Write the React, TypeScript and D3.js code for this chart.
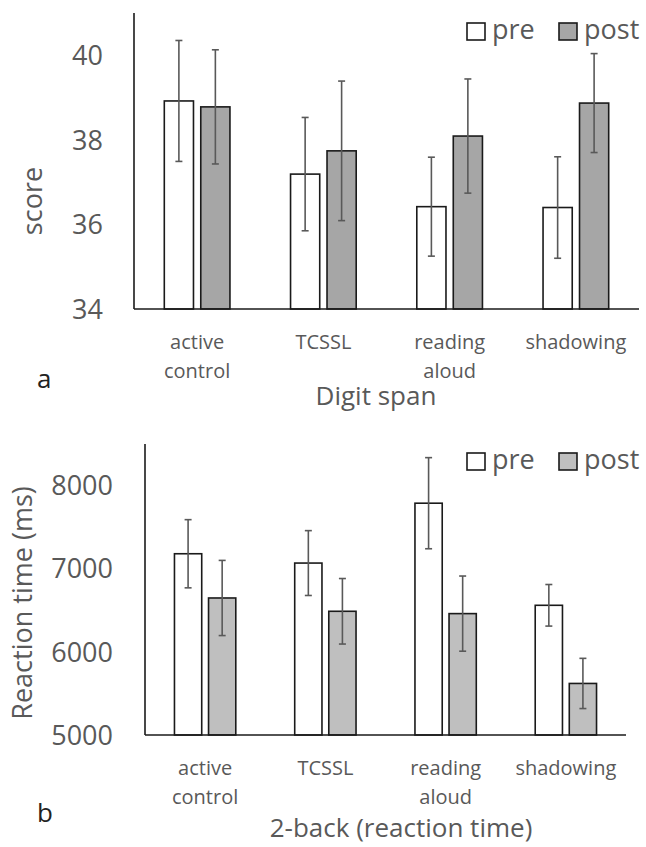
import React from "react";
import * as d3 from "d3";

const categories = [["active", "control"], ["TCSSL"], ["reading", "aloud"], ["shadowing"]];
const series = ["pre", "post"];

// digit span (score)
const spanPre = [38.92, 37.19, 36.42, 36.4];
const spanPost = [38.78, 37.74, 38.09, 38.87];
const spanPreErr = [1.43, 1.34, 1.17, 1.2];
const spanPostErr = [1.35, 1.65, 1.35, 1.17];
const spanTicks = [34, 36, 38, 40];

// 2-back reaction time (ms)
const rtPre = [7180, 7068, 7788, 6560];
const rtPost = [6648, 6488, 6460, 5620];
const rtPreErr = [410, 390, 548, 250];
const rtPostErr = [452, 394, 452, 302];
const rtTicks = [5000, 6000, 7000, 8000];

const FONT = "'Open Sans', 'Noto Sans', sans-serif";
const GREY = "#595959";

function Panel(props) {
  const { x0, x1, yTop, yBase, domain, ticks, pre, post, preErr, postErr, postFill,
    inner, yLabel, yLabelX, yLabelY, tickX, letter, title, titleX, titleY, legendY, catY } = props;

  const x = d3.scaleBand().domain(d3.range(categories.length)).range([x0, x1])
    .paddingInner(inner).paddingOuter(inner / 2);
  const xs = d3.scaleBand().domain(series).range([0, x.bandwidth()]).paddingInner(0.2);
  const y = d3.scaleLinear().domain(domain).range([yBase, yTop]);

  const vals = [pre, post];
  const errs = [preErr, postErr];
  const fills = ["#ffffff", postFill];

  return (
    <g>
      {ticks.map((t) => (
        <text key={t} x={tickX} y={y(t)} dy="0.36em" textAnchor="end" fontSize={27} fill={GREY} fontFamily={FONT}>{t}</text>
      ))}
      <text transform={`translate(${yLabelX},${yLabelY}) rotate(-90)`} textAnchor="middle"
        fontSize={27} fill={GREY} fontFamily={FONT}>{yLabel}</text>

      {categories.map((c, i) => (
        <g key={i}>
          {series.map((s, j) => {
            const bx = x(i) + xs(s);
            const v = vals[j][i];
            const e = errs[j][i];
            const cx = bx + xs.bandwidth() / 2;
            return (
              <g key={s}>
                <rect x={bx} y={y(v)} width={xs.bandwidth()} height={yBase - y(v)} fill={fills[j]} stroke="#1a1a1a" strokeWidth={1.6} />
                <line x1={cx} x2={cx} y1={y(v + e)} y2={y(v - e)} stroke={GREY} strokeWidth={1.6} />
                <line x1={cx - 3.5} x2={cx + 3.5} y1={y(v + e)} y2={y(v + e)} stroke={GREY} strokeWidth={1.6} />
                <line x1={cx - 3.5} x2={cx + 3.5} y1={y(v - e)} y2={y(v - e)} stroke={GREY} strokeWidth={1.6} />
              </g>
            );
          })}
          {c.map((line, k) => (
            <text key={k} x={x(i) + x.bandwidth() / 2} y={catY + k * 29} textAnchor="middle" fontSize={20} fill={GREY} fontFamily={FONT}>{line}</text>
          ))}
        </g>
      ))}

      <line x1={x0} x2={x0} y1={yTop} y2={yBase} stroke="#1a1a1a" strokeWidth={1.6} />
      <line x1={x0} x2={x1} y1={yBase} y2={yBase} stroke="#1a1a1a" strokeWidth={1.6} />

      {series.map((s, j) => (
        <g key={s} transform={`translate(${467 + j * 92},${legendY})`}>
          <rect x={0} y={0} width={18} height={17} fill={fills[j]} stroke="#1a1a1a" strokeWidth={1.6} />
          <text x={25} y={16} fontSize={27} fill={GREY} fontFamily={FONT}>{s}</text>
        </g>
      ))}

      <text x={37} y={letter} fontSize={26} fill="#222" fontFamily={FONT}>{props.letterText}</text>
      <text x={titleX} y={titleY} textAnchor="middle" fontSize={26} fill={GREY} fontFamily={FONT}>{title}</text>
    </g>
  );
}

export default function App() {
  return (
    <svg width={646} height={847} style={{ position: "absolute", left: 0, top: 0, background: "#fff" }}>
      <rect width={646} height={847} fill="#fff" />
      <Panel x0={134} x1={639} yTop={13} yBase={309} domain={[34, 41]} ticks={spanTicks}
        pre={spanPre} post={spanPost} preErr={spanPreErr} postErr={spanPostErr} postFill="#a6a6a6"
        inner={0.48} yLabel="score" yLabelX={42} yLabelY={201} tickX={103} letter={388} letterText="a"
        title="Digit span" titleX={376} titleY={405} legendY={23} catY={349} />
      <Panel x0={145} x1={626} yTop={444} yBase={735} domain={[5000, 8500]} ticks={rtTicks}
        pre={rtPre} post={rtPost} preErr={rtPreErr} postErr={rtPostErr} postFill="#bfbfbf"
        inner={0.49} yLabel="Reaction time (ms)" yLabelX={32} yLabelY={603} tickX={113} letter={822} letterText="b"
        title="2-back (reaction time)" titleX={401} titleY={837} legendY={453} catY={775} />
    </svg>
  );
}
